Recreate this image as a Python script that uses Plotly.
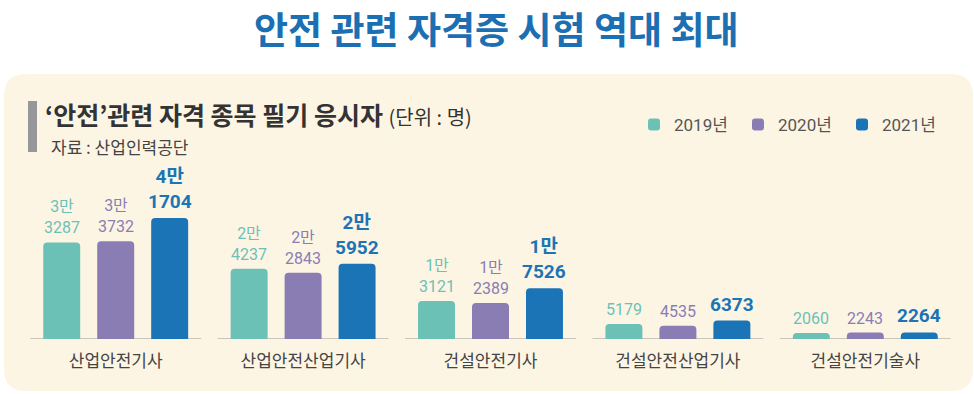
import plotly.graph_objects as go

categories = ["산업안전기사", "산업안전산업기사", "건설안전기사", "건설안전산업기사", "건설안전기술사"]
years = ["2019년", "2020년", "2021년"]
v2019 = [33287, 24237, 13121, 5179, 2060]
v2020 = [33732, 22843, 12389, 4535, 2243]
v2021 = [41704, 25952, 17526, 6373, 2264]

colors = ["#6cc1b7", "#8a7db3", "#1a74b5"]
W, H = 974, 394
ML, MR, MT, MB = 22, 15, 150, 55
BARGAP = 0.136

pw = W - ML - MR
ph = H - MT - MB
cat_px = pw / len(categories)
pitch = (1 - BARGAP) / 3 * cat_px


def px(x):
    return (x - ML) / pw


def py(y):
    return (H - MB - y) / ph


def fmt(v):
    if v >= 10000:
        return f"{v // 10000}만<br>{v % 10000}"
    return str(v)


fig = go.Figure()
annotations = []
for j, (name, vals, col) in enumerate(zip(years, [v2019, v2020, v2021], colors)):
    bold = j == 2
    fig.add_trace(go.Bar(
        x=categories, y=vals, name=name,
        marker=dict(color=col, line=dict(width=0)),
        hoverinfo="skip",
    ))
    fnt = dict(family="Roboto, Noto Sans CJK KR", size=19 if bold else 16,
               color=col, weight=700 if bold else 400)
    for c, v in zip(categories, vals):
        annotations.append(dict(x=c, y=v, xref="x", yref="y", text=fmt(v),
                                showarrow=False, yanchor="bottom", xshift=(j - 1) * pitch,
                                yshift=3, font=fnt))

shapes = []
x0, x1, y0, y1, r = 4, 973, 74, 391, 22
path = (f"M{px(x0 + r)},{py(y0)} L{px(x1 - r)},{py(y0)} Q{px(x1)},{py(y0)} {px(x1)},{py(y0 + r)} "
        f"L{px(x1)},{py(y1 - r)} Q{px(x1)},{py(y1)} {px(x1 - r)},{py(y1)} "
        f"L{px(x0 + r)},{py(y1)} Q{px(x0)},{py(y1)} {px(x0)},{py(y1 - r)} "
        f"L{px(x0)},{py(y0 + r)} Q{px(x0)},{py(y0)} {px(x0 + r)},{py(y0)} Z")
shapes.append(dict(type="path", path=path, xref="paper", yref="paper",
                   fillcolor="#fdf5e4", line=dict(width=0), layer="below"))
shapes.append(dict(type="rect", xref="paper", yref="paper", x0=px(28), x1=px(37), y0=py(101), y1=py(152),
                   fillcolor="#97979a", line=dict(width=0), layer="below"))
for i in range(len(categories)):
    shapes.append(dict(type="line", xref="x", yref="y", x0=i - 0.456, x1=i + 0.456, y0=0, y1=0,
                       line=dict(color="#cbc6bd", width=2), layer="below"))

annotations += [
    dict(text="<b>안전 관련 자격증 시험 역대 최대</b>", x=px(W / 2 + 10), y=py(28), xref="paper", yref="paper",
         xanchor="center", yanchor="middle",
         showarrow=False, font=dict(family="Noto Sans CJK KR", size=37, color="#1b6fb2", weight=900)),
    dict(text="<b>‘안전’관련 자격 종목 필기 응시자</b> <span style='font-size:20px'>(단위 : 명)</span>",
         x=px(43), y=py(114), xref="paper", yref="paper", xanchor="left", yanchor="middle",
         showarrow=False, font=dict(family="Noto Sans CJK KR", size=25, color="#333333")),
    dict(text="자료 : 산업인력공단", x=px(49), y=py(146), xref="paper", yref="paper",
         xanchor="left", yanchor="middle", showarrow=False,
         font=dict(family="Noto Sans CJK KR", size=17, color="#444444")),
]

fig.update_layout(
    width=W, height=H,
    margin=dict(l=ML, r=MR, t=MT, b=MB, autoexpand=False),
    paper_bgcolor="white", plot_bgcolor="rgba(0,0,0,0)",
    barmode="group", bargap=BARGAP, bargroupgap=0.315, barcornerradius=4,
    showlegend=True,
    legend=dict(orientation="h", x=634 / W, y=1 - 125 / H, xref="container", yref="container",
                xanchor="left", yanchor="middle",
                bgcolor="rgba(0,0,0,0)", entrywidth=59, entrywidthmode="pixels",
                font=dict(family="Roboto, Noto Sans CJK KR", size=17, color="#555555"),
                itemclick=False),
    xaxis=dict(showgrid=False, zeroline=False, showline=False, ticks="",
               tickfont=dict(family="Noto Sans CJK KR", size=17, color="#444444"),
               ticklabelstandoff=10, fixedrange=True),
    yaxis=dict(range=[0, ph / 0.0029], visible=False, showgrid=False, zeroline=False, fixedrange=True),
    shapes=shapes, annotations=annotations,
)

fig.write_html("out.html", config={"displayModeBar": False},
               post_script="document.body.style.margin='0';")
